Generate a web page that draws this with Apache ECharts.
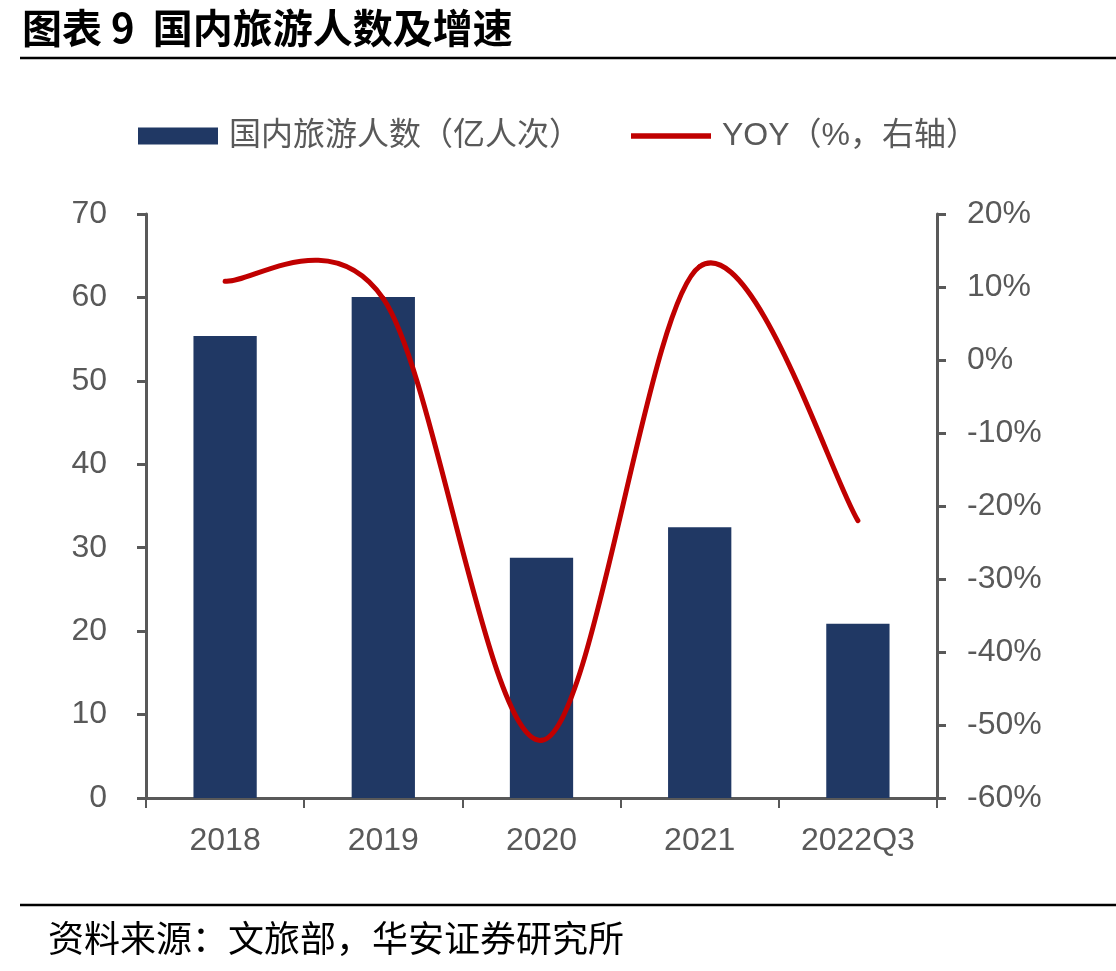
<!DOCTYPE html>
<html>
<head>
<meta charset="utf-8">
<script src="https://cdn.jsdelivr.net/npm/echarts@6/dist/echarts.min.js"></script>
<style>
  html, body { margin: 0; padding: 0; background: #fff; }
  #main { width: 1116px; height: 971px; }
</style>
</head>
<body>
<div id="main"></div>
<script>
// 数据
const years = ["2018", "2019", "2020", "2021", "2022Q3"];
const tourists = [55.39, 60.06, 28.79, 32.46, 20.9]; // 国内旅游人数（亿人次）
const yoy = [10.8, 8.4, -52.1, 12.8, -22.0]; // YOY %
const leftTicks = { min: 0, max: 70, interval: 10 };
const rightTicks = { min: -60, max: 20, interval: 10 };

const FONT = "'Liberation Sans', Arial, 'Noto Sans CJK SC', sans-serif";
const GREY = "#595959";
const RED = "#C00000";

const chart = echarts.init(document.getElementById("main"));

// Excel 风格的平滑曲线（Catmull-Rom → 贝塞尔），点位来自坐标轴换算
function renderYoy(params, api) {
  if (params.dataIndex !== 0) return;
  const pts = yoy.map((v, i) => api.coord([i, v]));
  const n = pts.length;
  const children = [];
  for (let i = 0; i < n - 1; i++) {
    const p0 = pts[Math.max(i - 1, 0)];
    const p1 = pts[i];
    const p2 = pts[i + 1];
    const p3 = pts[Math.min(i + 2, n - 1)];
    children.push({
      type: "bezierCurve",
      shape: {
        x1: p1[0], y1: p1[1],
        x2: p2[0], y2: p2[1],
        cpx1: p1[0] + (p2[0] - p0[0]) / 6,
        cpy1: p1[1] + (p2[1] - p0[1]) / 6,
        cpx2: p2[0] - (p3[0] - p1[0]) / 6,
        cpy2: p2[1] - (p3[1] - p1[1]) / 6,
      },
      style: { stroke: RED, lineWidth: 5, fill: null, lineCap: "round" },
    });
  }
  return { type: "group", children: children };
}

const option = {
  backgroundColor: "#fff",
  animation: false,
  textStyle: { fontFamily: FONT },
  grid: { left: 146, right: 179, top: 214, bottom: 173 },
  legend: {
    left: 138,
    top: 120,
    padding: 0,
    itemGap: 50,
    itemWidth: 80,
    itemHeight: 17,
    textStyle: { fontSize: 32, color: GREY, fontFamily: FONT, padding: [0, 0, 0, 6] },
    data: [
      { name: "国内旅游人数（亿人次）", icon: "rect" },
      { name: "YOY（%，右轴）", icon: "path://M0,0 L84,0 L84,6 L0,6 Z", itemStyle: { color: RED } },
    ],
  },
  xAxis: {
    type: "category",
    data: years,
    axisLine: { lineStyle: { color: GREY, width: 3 } },
    axisTick: { show: true, length: 10, lineStyle: { color: GREY, width: 2 } },
    axisLabel: { color: GREY, fontSize: 32, margin: 27, fontFamily: FONT },
  },
  yAxis: [
    {
      type: "value",
      min: leftTicks.min,
      max: leftTicks.max,
      interval: leftTicks.interval,
      splitLine: { show: false },
      axisLine: { show: true, lineStyle: { color: GREY, width: 3 } },
      axisTick: { show: true, length: 9, lineStyle: { color: GREY, width: 3 } },
      axisLabel: { color: GREY, fontSize: 32, margin: 39, fontFamily: FONT },
    },
    {
      type: "value",
      position: "right",
      min: rightTicks.min,
      max: rightTicks.max,
      interval: rightTicks.interval,
      splitLine: { show: false },
      axisLine: { show: true, lineStyle: { color: GREY, width: 3 } },
      axisTick: { show: true, length: 9, lineStyle: { color: GREY, width: 3 } },
      axisLabel: {
        color: GREY,
        fontSize: 32,
        margin: 30,
        fontFamily: FONT,
        formatter: "{value}%",
      },
    },
  ],
  series: [
    {
      name: "国内旅游人数（亿人次）",
      type: "bar",
      data: tourists,
      barWidth: "40%",
      itemStyle: { color: "#203864" },
      z: 2,
    },
    {
      name: "YOY（%，右轴）",
      type: "custom",
      yAxisIndex: 1,
      data: yoy.map((v, i) => [i, v]),
      encode: { x: 0, y: 1 },
      renderItem: renderYoy,
      itemStyle: { color: RED },
      z: 3,
    },
  ],
  graphic: [
    {
      type: "text",
      left: 22,
      top: 8,
      style: {
        text: "图表 9  国内旅游人数及增速",
        font: "bold 40px 'Noto Sans CJK SC', sans-serif",
        fill: "#000",
      },
    },
    {
      type: "line",
      shape: { x1: 20, y1: 58, x2: 1116, y2: 58 },
      style: { stroke: "#000", lineWidth: 2.5 },
    },
    {
      type: "line",
      shape: { x1: 20, y1: 905, x2: 1116, y2: 905 },
      style: { stroke: "#000", lineWidth: 2.5 },
    },
    {
      type: "text",
      left: 48,
      top: 920,
      style: {
        text: "资料来源：文旅部，华安证券研究所",
        font: "36px 'Noto Sans CJK SC', sans-serif",
        fill: "#000",
      },
    },
  ],
};

chart.setOption(option);
</script>
</body>
</html>
